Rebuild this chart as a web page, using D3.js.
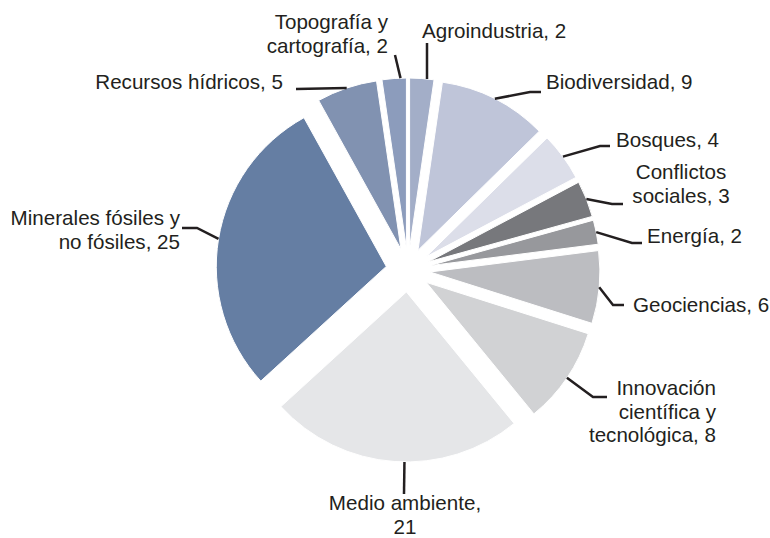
<!DOCTYPE html>
<html>
<head>
<meta charset="utf-8">
<script src="https://cdn.jsdelivr.net/npm/d3@7"></script>
<style>
  body { margin: 0; background: #fff; }
  svg text { font-family: "Liberation Sans", Arial, sans-serif; font-size: 20.6px; fill: #231f20; }
</style>
</head>
<body>
<svg width="770" height="538"></svg>
<script>
// data
var categories = ['Agroindustria', 'Biodiversidad', 'Bosques', 'Conflictos sociales', 'Energía',
  'Geociencias', 'Innovación científica y tecnológica', 'Medio ambiente',
  'Minerales fósiles y no fósiles', 'Recursos hídricos', 'Topografía y cartografía'];
var values = [2, 9, 4, 3, 2, 6, 8, 21, 25, 5, 2];
var colors = ['#a3aec8', '#bfc5d9', '#dcdee9', '#77787c', '#97989c',
  '#bcbdc1', '#d1d2d4', '#e5e6e8', '#657ea3', '#8192b1', '#8c9cbc'];
var labelLines = [
  ['Agroindustria, 2'],
  ['Biodiversidad, 9'],
  ['Bosques, 4'],
  ['Conflictos', 'sociales, 3'],
  ['Energía, 2'],
  ['Geociencias, 6'],
  ['Innovación', 'científica y', 'tecnológica, 8'],
  ['Medio ambiente,', '21'],
  ['Minerales fósiles y', 'no fósiles, 25'],
  ['Recursos hídricos, 5'],
  ['Topografía y', 'cartografía, 2']
];

// label placement (layout only): text anchor point + leader path
var labelLayout = [
  {x: 422, y: 38, anchor: 'start', at: 0.71, pts: [[427, 43]]},
  {x: 546, y: 89, anchor: 'start', at: 0.5, pts: [[530, 92], [541, 92]]},
  {x: 616, y: 147, anchor: 'start', at: 0.5, pts: [[600, 146], [610, 146]]},
  {x: 681, y: 179, anchor: 'middle', at: 0.5, pts: [[612, 204], [623, 204]]},
  {x: 647, y: 243, anchor: 'start', at: 0.5, pts: [[632, 243], [642, 243]]},
  {x: 633, y: 312, anchor: 'start', at: 0.5, pts: [[613, 305], [624, 305]]},
  {x: 716, y: 395, anchor: 'end', at: 0.5, pts: [[593, 397], [607, 397]]},
  {x: 405, y: 510, anchor: 'middle', at: 0.46, pts: [[404, 494]]},
  {x: 180, y: 225, anchor: 'end', at: 0.5, pts: [[197, 228], [182, 228]]},
  {x: 283, y: 89, anchor: 'end', at: 0.5, pts: [[296, 89]]},
  {x: 388, y: 29, anchor: 'end', at: 0.76, pts: [[395, 55]]}
];

var svg = d3.select('svg');
var cx = 408, cy = 270;
var radius = 170;
var explode = 22;
var lineHeight = 23.5;

var pie = d3.pie().sort(null).value(function(d) { return d; });
var arcs = pie(values);

var arc = d3.arc().innerRadius(0).outerRadius(radius);

var g = svg.append('g')
  .attr('transform', 'translate(' + cx + ',' + cy + ')');

function offset(d) {
  var a = (d.startAngle + d.endAngle) / 2;
  return [Math.sin(a) * explode, -Math.cos(a) * explode];
}

g.selectAll('path.slice')
  .data(arcs)
  .enter().append('path')
  .attr('class', 'slice')
  .attr('transform', function(d) {
    var o = offset(d);
    return 'translate(' + o[0] + ',' + o[1] + ')';
  })
  .attr('d', arc)
  .attr('fill', function(d, i) { return colors[i]; })
  .attr('stroke', '#fff')
  .attr('stroke-width', 1);

// leaders
var leaders = svg.append('g');
arcs.forEach(function(d, i) {
  var lay = labelLayout[i];
  var o = offset(d);
  var a = d.startAngle + (d.endAngle - d.startAngle) * lay.at;
  var start = [cx + o[0] + Math.sin(a) * radius, cy + o[1] - Math.cos(a) * radius];
  var pts = [start].concat(lay.pts);
  leaders.append('path')
    .attr('d', d3.line()(pts))
    .attr('fill', 'none')
    .attr('stroke', '#231f20')
    .attr('stroke-width', 2.5);
});

// labels
var labels = svg.append('g');
labelLines.forEach(function(lines, i) {
  var lay = labelLayout[i];
  var t = labels.append('text')
    .attr('text-anchor', lay.anchor);
  lines.forEach(function(line, j) {
    t.append('tspan')
      .attr('x', lay.x)
      .attr('y', lay.y + j * lineHeight)
      .text(line);
  });
});
</script>
</body>
</html>
